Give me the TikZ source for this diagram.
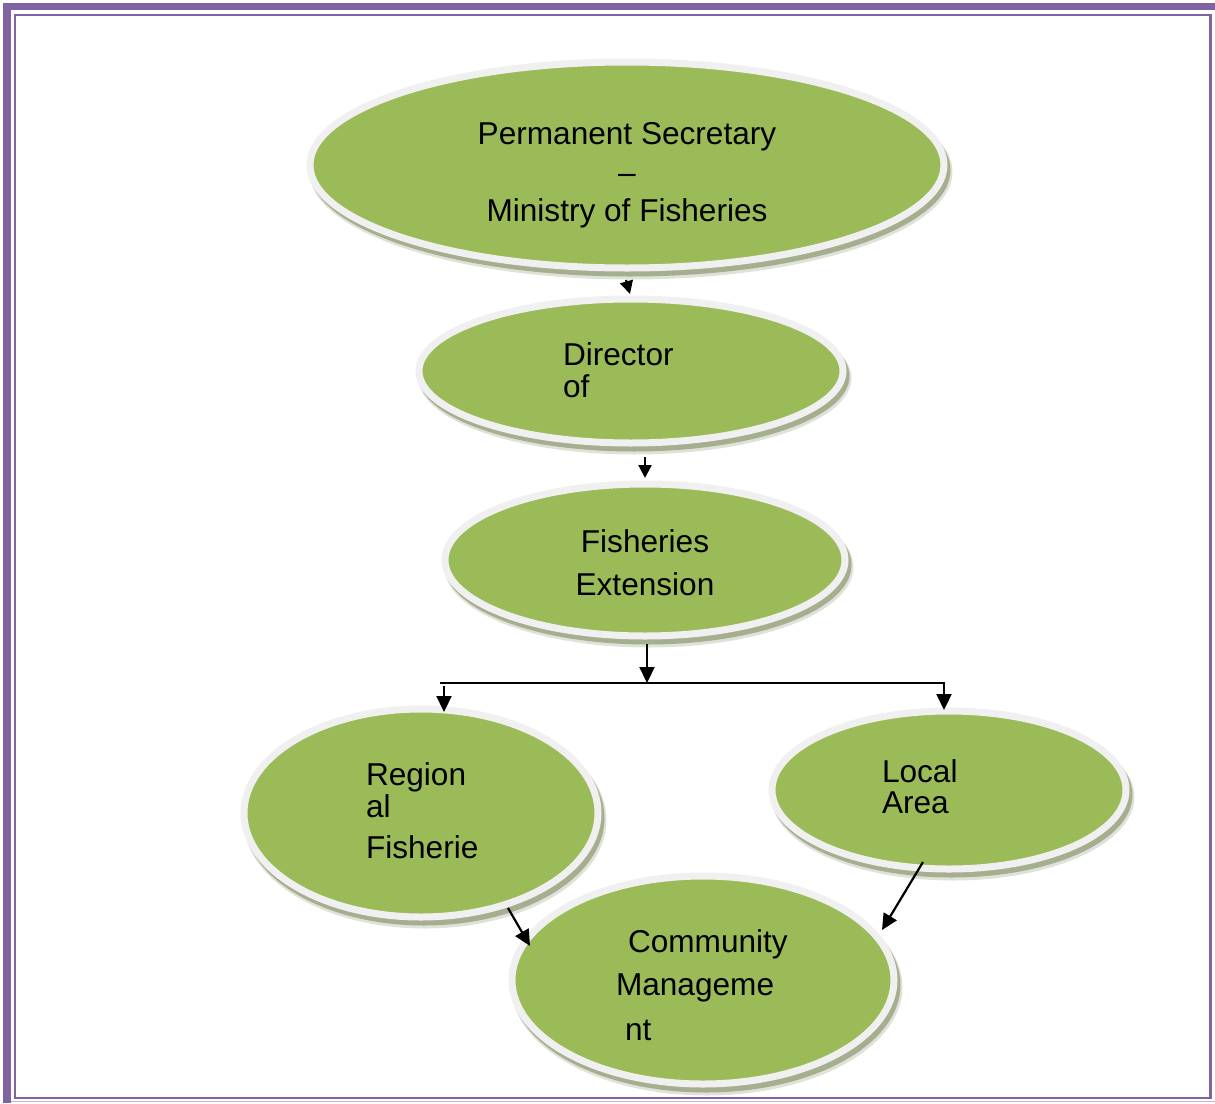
\documentclass[tikz,border=0pt]{standalone}
\usepackage{fontspec}
\setmainfont{Liberation Sans}
\usetikzlibrary{arrows.meta,calc,shapes.geometric}
\definecolor{grn}{HTML}{9BBB59}
\definecolor{rim}{HTML}{F0F0F0}
\definecolor{shd}{HTML}{A6AE90}
\definecolor{frm}{HTML}{8064A2}
\definecolor{frmlt}{HTML}{C4B6DA}
\tikzset{
  ell/.style={ellipse, draw=rim, line width=7pt, fill=grn, inner sep=0pt, outer sep=0pt},
  lbl/.style={font=\fontsize{31.6}{36}\selectfont, inner sep=0pt, outer sep=0pt, text=black},
  conn/.style={line width=2.2pt, -{Triangle[length=16pt,width=15pt]}},
  sconn/.style={line width=2.2pt, -{Triangle[length=13pt,width=13pt]}},
  plain/.style={line width=2pt},
}
\newcommand\myshadow[4]{%
  \fill[shd, opacity=0.35] (#1+4,#2+7) ellipse [x radius=#3pt+4.5pt, y radius=#4pt+4.5pt];
  \fill[shd] (#1+3,#2+5) ellipse [x radius=#3pt+3.5pt, y radius=#4pt+3.5pt];}
\begin{document}
\begin{tikzpicture}[x=1pt,y=-1pt]
\useasboundingbox (0,0) rectangle (1215,1103);
\fill[white] (0,0) rectangle (1215,1103);
% frame
\fill[frm] (3,3) rectangle (11,1103);
\fill[frm] (3,3) rectangle (1215,10);
\draw[frm, line width=2.5pt] (15,15) rectangle (1210.5,1098);
\draw[frmlt, line width=1.5pt] (11,1101.5) -- (1215,1101.5);

% ellipses
\myshadow{627}{165}{317}{103}
\node[ell, minimum width=634pt, minimum height=206pt] (ps) at (627,165) {};
\myshadow{631}{371}{212}{72}
\node[ell, minimum width=424pt, minimum height=144pt] (dir) at (631,371) {};
\myshadow{645}{560}{200}{76}
\node[ell, minimum width=400pt, minimum height=152pt] (fe) at (645,560) {};
\myshadow{421}{813}{177}{104}
\node[ell, minimum width=354pt, minimum height=208pt] (reg) at (421,813) {};
\myshadow{949}{790}{177}{79}
\node[ell, minimum width=354pt, minimum height=158pt] (loc) at (949,790) {};
\myshadow{703}{980}{191}{104}
\node[ell, minimum width=382pt, minimum height=208pt] (comm) at (703,980) {};

% texts
\node[lbl, anchor=base] (ps1) at (627,144) {Permanent Secretary};
\node[lbl, anchor=base] (ps2) at (627,183) {–};
\node[lbl, anchor=base] (ps3) at (627,221) {Ministry of Fisheries};
\node[lbl, anchor=base west] (dir1) at (563,365) {Director};
\node[lbl, anchor=base west] (dir2) at (563,397) {of};
\node[lbl, anchor=base] (fe1) at (645,552) {Fisheries};
\node[lbl, anchor=base] (fe2) at (645,595) {Extension};
\node[lbl, anchor=base west] (reg1) at (366,785) {Region};
\node[lbl, anchor=base west] (reg2) at (366,817) {al};
\node[lbl, anchor=base west] (reg3) at (366,858) {Fisherie};
\node[lbl, anchor=base west] (loc1) at (882,782) {Local};
\node[lbl, anchor=base west] (loc2) at (882,813) {Area};
\node[lbl, anchor=base west] (comm1) at (628,952) {Community};
\node[lbl, anchor=base west] (comm2) at (616,995) {Manageme};
\node[lbl, anchor=base west] (comm3) at (625,1040) {nt};

% connectors
\coordinate (br) at (647,683);
\coordinate (brl) at (440,683);
\coordinate (brr) at (945,683);
\coordinate (dl) at (444,683);
\coordinate (dr) at (944,683);
\draw[sconn] ($(ps)+(-1,115)$) -- ($(dir)+(-1,-77)$);
\draw[sconn] ($(dir)+(14,86)$) -- ($(fe)+(0,-82)$);
\draw[conn] ($(fe)+(2,84)$) -- (br);
\draw[plain] (brl) -- (brr);
\draw[conn] ($(dl)+(0,3)$) -- ($(reg)+(23,-101)$);
\draw[conn] ($(dr)+(0,0)$) -- ($(loc)+(-5,-80)$);
\draw[conn] ($(reg)+(87,95)$) -- ($(comm)+(-173,-34)$);
\draw[conn] ($(loc)+(-26,72)$) -- ($(comm)+(179,-50)$);
\end{tikzpicture}
\end{document}
